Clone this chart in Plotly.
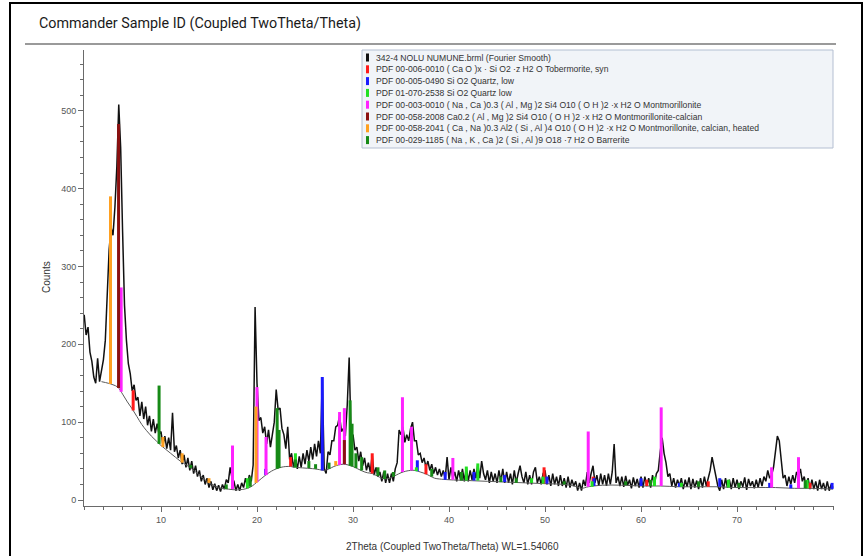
import numpy as np
import plotly.graph_objects as go

# ---------------- measured scan (Fourier smoothed), 0.2 deg steps ----------------
two_theta = np.round(np.arange(2.0, 80.0001, 0.2), 1)

counts = [
    238, 212, 222, 190, 178, 158, 150, 182, 152, 168,   # 2.0 - 3.8
    180, 205, 258, 322, 350, 340, 376, 428, 508, 452,   # 4.0 - 5.8
    345, 250, 205, 175, 162, 140, 148, 128, 132, 108,   # 6.0 - 7.8
    126, 104, 120, 96, 108, 88, 104, 86, 98, 84,        # 8.0 - 9.8
    88, 70, 82, 66, 80, 64, 112, 62, 70, 54,            # 10.0 - 11.8
    64, 46, 58, 42, 54, 38, 50, 34, 44, 30,             # 12.0 - 13.8
    38, 24, 32, 20, 28, 16, 24, 13, 21, 12,             # 14.0 - 15.8
    19, 11, 20, 14, 26, 22, 42, 28, 24, 12,             # 16.0 - 17.8
    20, 12, 22, 16, 28, 18, 32, 24, 45, 248,            # 18.0 - 19.8
    150, 102, 106, 86, 94, 72, 90, 68, 84, 100,         # 20.0 - 21.8
    142, 116, 118, 92, 84, 66, 94, 52, 60, 42,          # 22.0 - 23.8
    54, 40, 56, 42, 60, 46, 64, 50, 68, 52,             # 24.0 - 25.8
    72, 56, 76, 60, 158, 40, 34, 62, 58, 76,            # 26.0 - 27.8
    76, 94, 96, 108, 88, 92, 82, 122, 183, 80,          # 28.0 - 29.8
    84, 64, 68, 50, 62, 44, 54, 38, 48, 36,             # 30.0 - 31.8
    58, 32, 42, 30, 36, 24, 36, 22, 34, 22,             # 32.0 - 33.8
    34, 24, 40, 48, 90, 84, 94, 74, 84, 76,             # 34.0 - 35.8
    92, 100, 76, 76, 58, 60, 48, 54, 42, 50,            # 36.0 - 37.8
    38, 46, 34, 42, 32, 40, 30, 38, 28, 55,             # 38.0 - 39.8
    26, 42, 28, 36, 24, 38, 26, 40, 24, 42,             # 40.0 - 41.8
    24, 38, 26, 40, 28, 46, 28, 50, 34, 26,             # 42.0 - 43.8
    38, 22, 36, 24, 34, 22, 38, 24, 40, 22,             # 44.0 - 45.8
    36, 22, 34, 20, 38, 22, 34, 44, 30, 22,             # 46.0 - 47.8
    36, 20, 32, 20, 36, 42, 22, 30, 20, 34,             # 48.0 - 49.8
    38, 20, 32, 18, 34, 20, 30, 18, 32, 18,             # 50.0 - 51.8
    28, 16, 30, 16, 26, 18, 24, 12, 22, 12,             # 52.0 - 53.8
    26, 18, 36, 22, 34, 44, 22, 32, 18, 34,             # 54.0 - 55.8
    20, 32, 18, 34, 20, 36, 72, 22, 30, 18,             # 56.0 - 57.8
    30, 17, 31, 19, 26, 15, 29, 18, 27, 16,             # 58.0 - 59.8
    30, 16, 30, 18, 28, 16, 32, 20, 34, 38,             # 60.0 - 61.8
    62, 80, 60, 48, 30, 34, 18, 28, 16, 26,             # 62.0 - 63.8
    18, 28, 14, 26, 17, 29, 14, 27, 16, 25,             # 64.0 - 65.8
    14, 28, 16, 30, 18, 28, 38, 55, 44, 30,             # 66.0 - 67.8
    18, 12, 26, 14, 28, 16, 26, 14, 28, 16,             # 68.0 - 69.8
    26, 14, 24, 17, 29, 13, 27, 18, 24, 15,             # 70.0 - 71.8
    26, 16, 28, 18, 30, 24, 38, 28, 32, 42,             # 72.0 - 73.8
    60, 82, 76, 48, 28, 32, 18, 30, 20, 32,             # 74.0 - 75.8
    22, 36, 30, 40, 24, 30, 16, 28, 14, 26,             # 76.0 - 77.8
    14, 24, 12, 26, 14, 22, 12, 24, 12, 20,             # 78.0 - 79.8
    16,                                                 # 80.0
]

# ---------------- fitted background ----------------
bg_theta = [3.8, 4.5, 5.0, 5.5, 6.0, 6.5, 7.0, 7.5, 8.0, 8.5, 9.0, 9.5, 10.0, 10.5,
            11.0, 11.5, 12.0, 12.5, 13.0, 13.5, 14.0, 14.5, 15.0, 15.5, 16.0, 17.0,
            18.0, 19.0, 19.5, 20.0, 20.5, 21.0, 21.5, 22.0, 22.5, 23.0, 23.5, 24.0,
            25.0, 26.0, 26.5, 27.0, 27.5, 28.0, 28.5, 29.0, 29.5, 30.0, 30.5, 31.0,
            31.5, 32.0, 32.5, 33.0, 33.5, 34.0, 34.5, 35.0, 35.5, 36.0, 36.5, 37.0,
            37.5, 38.0, 38.5, 39.0, 40.0, 42.0, 44.0, 46.0, 48.0, 50.0, 52.0, 53.0,
            53.8, 54.5, 56.0, 58.0, 60.0, 62.0, 64.0, 66.0, 68.0, 70.0, 72.0, 74.0,
            76.0, 78.0, 80.0]
bg_counts = [152, 150, 148, 145, 136, 126, 117, 107, 97, 89, 82, 76, 70, 65,
             60, 55, 50, 46, 42, 37, 32, 27, 22, 19, 16, 14,
             13, 15, 18, 23, 28, 33, 37, 40, 42, 43, 43, 42,
             41, 40, 39, 38, 40, 43, 45, 46, 45, 43, 40, 37,
             35, 34, 31, 28, 27, 29, 32, 35, 37, 38, 38, 36,
             34, 31, 28, 27, 26, 25, 24, 23, 22, 21, 20, 18,
             15, 17, 19, 19, 18, 18, 17, 17, 17, 16, 16, 16,
             15, 15, 14]

# ---------------- reference patterns (stick position, top, foot) ----------------
tob_pos = [7.1, 23.5, 32.0, 37.6, 49.9, 55.0, 60.6, 67.0, 77.6]
tob_top = [141, 55, 60, 46, 42, 30, 26, 24, 22]
tob_base = [115, 43, 34, 33, 21, 18, 18, 17, 15]

qzl_pos = [20.9, 26.8, 36.7, 39.6, 42.6, 45.8, 50.2, 55.1, 60.0, 64.0, 68.2, 73.4, 75.6, 79.9]
qzl_top = [40, 158, 51, 36, 36, 32, 30, 28, 28, 22, 28, 22, 20, 22]
qzl_base = [32, 38, 37, 26, 25, 23, 21, 18, 18, 17, 17, 16, 15, 14]

qz2_pos = [19.0, 24.0, 36.6, 41.8, 43.0, 48.6, 49.8, 54.9, 61.4, 64.2, 69.1, 77.3]
qz2_top = [28, 60, 42, 43, 47, 28, 30, 24, 30, 22, 26, 26]
qz2_base = [15, 42, 37, 25, 25, 22, 21, 17, 18, 17, 16, 15]

mnt_pos = [5.85, 17.45, 20.0, 20.94, 28.6, 29.1, 35.15, 36.1, 40.4, 54.5, 62.1, 73.6, 76.4]
mnt_top = [273, 70, 145, 81, 113, 118, 132, 94, 54, 88, 119, 42, 55]
mnt_base = [139, 14, 23, 32, 45, 46, 36, 38, 26, 17, 18, 16, 15]

mntc_pos = [5.58, 29.1]
mntc_top = [483, 77]
mntc_base = [144, 46]

mnth_pos = [4.74, 10.2, 12.2, 15.0, 19.9, 28.2]
mnth_top = [390, 81, 60, 28, 120, 50]
mnth_base = [149, 68, 48, 22, 22, 44]

bar_pos = [9.8, 13.1, 16.8, 19.3, 22.1, 22.3, 24.0, 25.4, 26.1, 27.5, 29.7, 29.9, 30.3,
           30.9, 32.6, 33.3, 34.2, 38.2, 41.3, 45.4, 47.0, 52.0, 58.4, 61.0, 66.0, 70.2, 77.1]
bar_top = [147, 45, 20, 30, 118, 90, 52, 50, 46, 48, 128, 98, 60,
           55, 42, 38, 36, 40, 36, 30, 28, 24, 24, 26, 24, 22, 25]
bar_base = [72, 41, 14, 17, 40, 41, 42, 41, 40, 40, 44, 43, 41,
            38, 31, 27, 30, 30, 25, 23, 22, 20, 19, 18, 17, 16, 15]

legend_labels = [
    "342-4 NOLU NUMUNE.brml (Fourier Smooth)",
    "PDF 00-006-0010 ( Ca O )x · Si O2 ·z H2 O Tobermorite, syn",
    "PDF 00-005-0490 Si O2 Quartz, low",
    "PDF 01-070-2538 Si O2 Quartz low",
    "PDF 00-003-0010 ( Na , Ca )0.3 ( Al , Mg )2 Si4 O10 ( O H )2 ·x H2 O Montmorillonite",
    "PDF 00-058-2008 Ca0.2 ( Al , Mg )2 Si4 O10 ( O H )2 ·x H2 O Montmorillonite-calcian",
    "PDF 00-058-2041 ( Ca , Na )0.3 Al2 ( Si , Al )4 O10 ( O H )2 ·x H2 O Montmorillonite, calcian, heated",
    "PDF 00-029-1185 ( Na , K , Ca )2 ( Si , Al )9 O18 ·7 H2 O Barrerite",
]
legend_colors = ["#111111", "#ff1a1a", "#1a1aff", "#22e022", "#ff22ff",
                 "#8b1010", "#ffa020", "#168a16"]

x_ticks = [10, 20, 30, 40, 50, 60, 70]
y_ticks = [0, 100, 200, 300, 400, 500]

# ---------------- geometry helpers (pixel -> paper) ----------------
W, H = 865, 556
L, R, T, B = 84, 834, 50, 506
FONT = "Liberation Sans, Arial, sans-serif"
TITLE_FONT = "Roboto, Liberation Sans, Arial, sans-serif"


def fx(px):
    return (px - L) / (R - L)


def fy(py):
    return (B - py) / (B - T)


fig = go.Figure()

fig.add_trace(go.Scatter(x=two_theta, y=counts, mode="lines",
                         line=dict(color="#111111", width=1.5),
                         name=legend_labels[0], showlegend=False))
fig.add_trace(go.Scatter(x=bg_theta, y=bg_counts, mode="lines",
                         line=dict(color="#5a5a5a", width=1, shape="spline"),
                         showlegend=False, hoverinfo="skip"))

stick_sets = [
    (tob_pos, tob_top, tob_base, legend_colors[1], legend_labels[1]),
    (qzl_pos, qzl_top, qzl_base, legend_colors[2], legend_labels[2]),
    (qz2_pos, qz2_top, qz2_base, legend_colors[3], legend_labels[3]),
    (mnt_pos, mnt_top, mnt_base, legend_colors[4], legend_labels[4]),
    (mntc_pos, mntc_top, mntc_base, legend_colors[5], legend_labels[5]),
    (mnth_pos, mnth_top, mnth_base, legend_colors[6], legend_labels[6]),
    (bar_pos, bar_top, bar_base, legend_colors[7], legend_labels[7]),
]
for pos, top, base, col, lab in stick_sets:
    xs, ys = [], []
    for p, t, b in zip(pos, top, base):
        xs += [p, p, None]
        ys += [b, t, None]
    fig.add_trace(go.Scatter(x=xs, y=ys, mode="lines", line=dict(color=col, width=3),
                             name=lab, showlegend=False))

shapes = []
annotations = []

# outer frame and title rule
shapes.append(dict(type="rect", xref="paper", yref="paper",
                   x0=fx(10), x1=fx(862), y0=fy(560), y1=fy(3),
                   line=dict(color="#000000", width=2), layer="below"))
shapes.append(dict(type="line", xref="paper", yref="paper",
                   x0=fx(25), x1=fx(836), y0=fy(44), y1=fy(44),
                   line=dict(color="#9a9a9a", width=2)))
annotations.append(dict(text="Commander Sample ID (Coupled TwoTheta/Theta)",
                        xref="paper", yref="paper", x=fx(37), y=fy(23),
                        xanchor="left", yanchor="middle", showarrow=False,
                        font=dict(family=TITLE_FONT, size=14.3, color="#1a1a1a")))

# legend box
shapes.append(dict(type="rect", xref="paper", yref="paper",
                   x0=fx(362), x1=fx(833), y0=fy(148), y1=fy(50),
                   fillcolor="#f1f4f8", line=dict(color="#b4bfd2", width=1)))
for i, (lab, col) in enumerate(zip(legend_labels, legend_colors)):
    yc = 57.5 + 11.8 * i
    shapes.append(dict(type="rect", xref="paper", yref="paper",
                       x0=fx(366), x1=fx(369), y0=fy(yc + 4), y1=fy(yc - 4),
                       fillcolor=col, line=dict(width=0)))
    annotations.append(dict(text=lab, xref="paper", yref="paper",
                            x=fx(374), y=fy(yc), xanchor="left", yanchor="middle",
                            showarrow=False,
                            font=dict(family=FONT, size=8.6, color="#333333")))

# axis titles
annotations.append(dict(text="Counts", xref="paper", yref="paper",
                        x=fx(46), y=fy(277), xanchor="center", yanchor="middle",
                        textangle=-90, showarrow=False,
                        font=dict(family=FONT, size=10, color="#333333")))
annotations.append(dict(text="2Theta (Coupled TwoTheta/Theta) WL=1.54060",
                        xref="paper", yref="paper", x=fx(452), y=fy(546),
                        xanchor="center", yanchor="middle", showarrow=False,
                        font=dict(family=FONT, size=10, color="#333333")))

fig.update_layout(
    width=W, height=H,
    margin=dict(l=L, r=W - R, t=T, b=H - B, pad=0),
    paper_bgcolor="white", plot_bgcolor="white",
    showlegend=False,
    shapes=shapes, annotations=annotations,
    xaxis=dict(range=[1.98, 80.1], showgrid=False, zeroline=False,
               showline=True, linecolor="#6a6a6a", linewidth=1,
               ticks="outside", ticklen=5, tickcolor="#6a6a6a",
               tickvals=x_ticks, ticktext=[str(v) for v in x_ticks],
               minor=dict(dtick=2, ticks="outside", ticklen=3, tickcolor="#6a6a6a"),
               tickfont=dict(family=FONT, size=9, color="#555555")),
    yaxis=dict(range=[-7.7, 578], showgrid=False, zeroline=False,
               showline=True, linecolor="#6a6a6a", linewidth=1,
               ticks="outside", ticklen=5, tickcolor="#6a6a6a",
               tickvals=y_ticks, ticktext=[str(v) for v in y_ticks],
               minor=dict(dtick=20, ticks="outside", ticklen=3, tickcolor="#6a6a6a"),
               tickfont=dict(family=FONT, size=9, color="#555555")),
)

fig.write_html("out.html")
